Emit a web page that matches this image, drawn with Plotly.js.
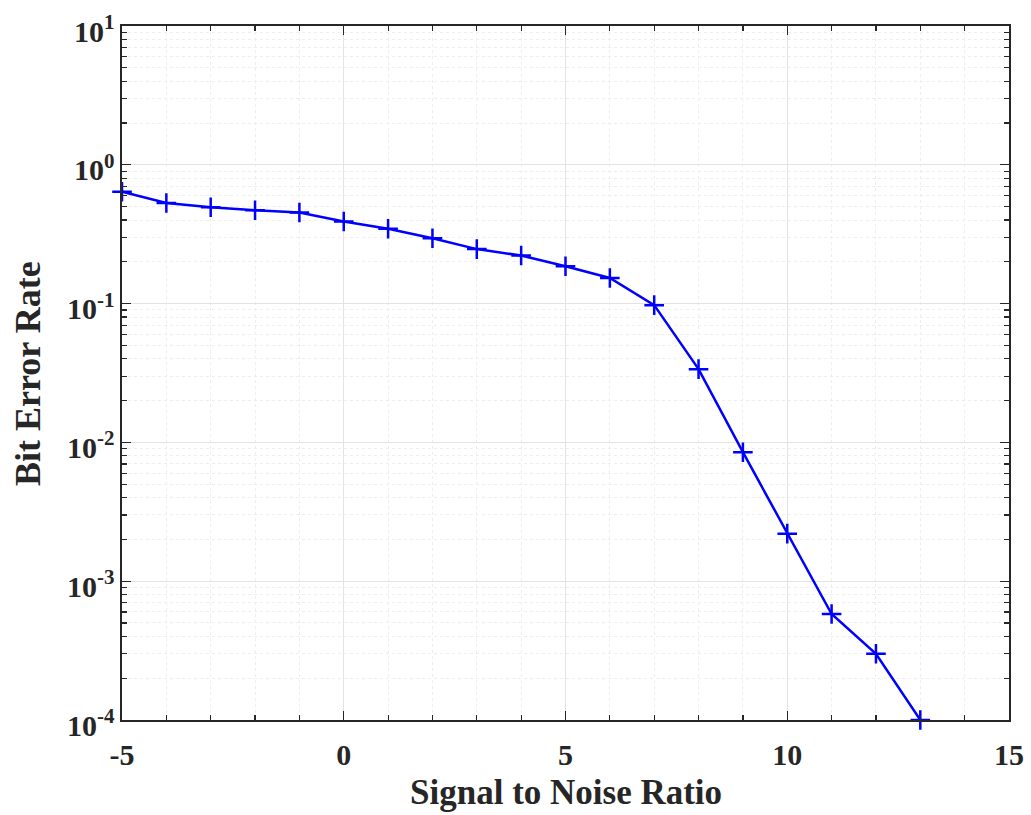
<!DOCTYPE html>
<html>
<head>
<meta charset="utf-8">
<script src="https://cdn.plot.ly/plotly-3.0.1.min.js"></script>
<style>
  html, body { margin: 0; padding: 0; background: #ffffff; }
  #chart { width: 1031px; height: 815px; }
</style>
</head>
<body>
<div id="chart"></div>
<script>
// Data
const snr = [-5, -4, -3, -2, -1, 0, 1, 2, 3, 4, 5, 6, 7, 8, 9, 10, 11, 12, 13];
const ber = [0.64, 0.53, 0.495, 0.47, 0.453, 0.39, 0.346, 0.296, 0.247, 0.222, 0.186, 0.153, 0.0975, 0.0337, 0.0085, 0.0022, 0.00058, 0.0003, 0.0001];

const yTickVals = [1e-4, 1e-3, 1e-2, 1e-1, 1, 10];
const yTickText = ['10<sup>-4</sup>', '10<sup>-3</sup>', '10<sup>-2</sup>', '10<sup>-1</sup>', '10<sup>0</sup>', '10<sup>1</sup>'];
const xTickVals = [-5, 0, 5, 10, 15];
const xTickText = ['-5', '0', '5', '10', '15'];
const xTitle = 'Signal to Noise Ratio';
const yTitle = 'Bit Error Rate';

// minor tick positions for a log axis (2..9 within each decade)
const yMinor = [];
for (let e = -4; e < 1; e++) {
  for (let m = 2; m <= 9; m++) yMinor.push(m * Math.pow(10, e));
}

const FONT = 'Liberation Serif, Times New Roman, serif';
const axisColor = '#262626';

const trace = {
  x: snr,
  y: ber,
  type: 'scatter',
  mode: 'lines+markers',
  line: { color: '#0000ff', width: 2.5 },
  marker: { symbol: 'cross-thin-open', size: 14, color: '#0000ff', line: { color: '#0000ff', width: 2.5 } },
  cliponaxis: false,
  showlegend: false
};

const layout = {
  width: 1031,
  height: 815,
  margin: { l: 122, r: 22, t: 26, b: 95 },
  paper_bgcolor: '#ffffff',
  plot_bgcolor: '#ffffff',
  font: { family: FONT, color: '#262626' },
  xaxis: {
    range: [-5, 15],
    tickmode: 'array',
    tickvals: xTickVals,
    ticktext: xTickText,
    ticks: 'inside',
    ticklen: 9,
    tickwidth: 1.2,
    tickcolor: axisColor,
    tickfont: { family: FONT, size: 30, color: '#262626', weight: 'bold' },
    ticklabelstandoff: 7,
    showline: true,
    linecolor: axisColor,
    linewidth: 1.6,
    mirror: 'ticks',
    showgrid: true,
    gridcolor: '#e3e3e3',
    gridwidth: 1,
    zeroline: false,
    minor: {
      dtick: 1,
      tick0: 0,
      ticks: 'inside',
      ticklen: 5,
      tickcolor: axisColor,
      showgrid: true,
      gridcolor: '#eeeeee',
      griddash: 'dot',
      gridwidth: 1
    }
  },
  yaxis: {
    type: 'log',
    range: [-4, 1],
    tickmode: 'array',
    tickvals: yTickVals,
    ticktext: yTickText,
    ticks: 'inside',
    ticklen: 9,
    tickwidth: 1.2,
    tickcolor: axisColor,
    tickfont: { family: FONT, size: 30, color: '#262626', weight: 'bold' },
    ticklabelshift: 5,
    showline: true,
    linecolor: axisColor,
    linewidth: 1.6,
    mirror: 'ticks',
    showgrid: true,
    gridcolor: '#e3e3e3',
    gridwidth: 1,
    zeroline: false,
    minor: {
      tickmode: 'array',
      tickvals: yMinor,
      ticks: 'inside',
      ticklen: 5,
      tickcolor: axisColor,
      showgrid: true,
      gridcolor: '#eeeeee',
      griddash: 'dot',
      gridwidth: 1
    }
  },
  annotations: [
    {
      text: '<b>' + xTitle + '</b>',
      xref: 'paper', yref: 'paper',
      x: 0.5, y: -0.104,
      xanchor: 'center', yanchor: 'middle',
      showarrow: false,
      font: { family: FONT, size: 35, color: '#262626' }
    },
    {
      text: '<b>' + yTitle + '</b>',
      xref: 'paper', yref: 'paper',
      x: -0.106, y: 0.5,
      xanchor: 'center', yanchor: 'middle',
      textangle: -90,
      showarrow: false,
      font: { family: FONT, size: 36, color: '#262626' }
    }
  ]
};

Plotly.newPlot('chart', [trace], layout, { displayModeBar: false, staticPlot: true });
</script>
</body>
</html>
